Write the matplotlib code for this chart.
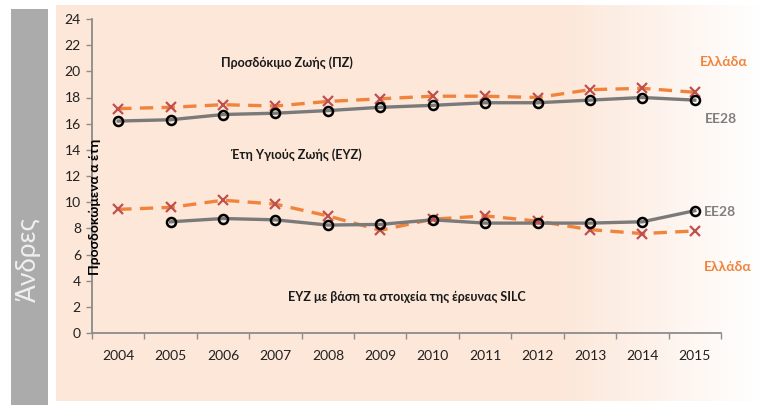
import numpy as np
import matplotlib
matplotlib.use("Agg")
import matplotlib.pyplot as plt

plt.rcParams['font.family'] = ['Lato', 'Open Sans', 'DejaVu Sans']

years = ['2004', '2005', '2006', '2007', '2008', '2009', '2010', '2011', '2012', '2013', '2014', '2015']
le_eu28 = [16.2, 16.3, 16.7, 16.8, 17.0, 17.25, 17.4, 17.6, 17.6, 17.8, 18.0, 17.8]
le_greece = [17.15, 17.25, 17.45, 17.35, 17.7, 17.9, 18.1, 18.1, 18.0, 18.6, 18.7, 18.4]
hly_eu28 = [np.nan, 8.5, 8.75, 8.65, 8.25, 8.3, 8.65, 8.4, 8.4, 8.4, 8.5, 9.35]
hly_greece = [9.45, 9.6, 10.15, 9.85, 8.95, 7.85, 8.7, 8.95, 8.55, 7.9, 7.6, 7.8]
yticks = list(range(0, 25, 2))

W, H = 760, 405
fig = plt.figure(figsize=(W / 100, H / 100), dpi=100)
fig.patch.set_facecolor('white')

def fx(px):
    return px / W

def fy(py):
    return 1 - py / H

# beige panel with fade to white on the right
bg = fig.add_axes([fx(56), fy(401), fx(760) - fx(56), fy(5) - fy(401)], zorder=0)
n = 704
xs = np.arange(n) + 56
t = np.clip((xs - 560) / (760 - 560), 0, 1)
base = np.array([252, 231, 217]) / 255.0
grad = base[None, :] * (1 - t[:, None]) + np.ones(3)[None, :] * t[:, None]
bg.imshow(grad[None, :, :], aspect='auto', extent=[0, 1, 0, 1])
bg.axis('off')

# gray side bar
side = fig.add_axes([fx(11), fy(405), fx(48) - fx(11), fy(9) - fy(405)], zorder=0)
side.set_facecolor('#ABABAB')
side.set_xticks([]); side.set_yticks([])
for s in side.spines.values():
    s.set_visible(False)
fig.text(fx(28), fy(260), 'Άνδρες', rotation=90, ha='center', va='center',
         color='#EFEFEF', fontsize=19, zorder=5)

ax = fig.add_axes([fx(92), fy(333), fx(721) - fx(92), fy(19) - fy(333)], zorder=2)
ax.patch.set_visible(False)
x = np.arange(len(years))

orange = '#F0843C'
red = '#C0504D'
gray = '#7A7A7A'

for ser in (le_greece, hly_greece):
    ax.plot(x, ser, color=orange, lw=2.4, ls=(0, (4, 2.5)), zorder=3)
    ax.plot(x, ser, ls='none', marker='x', ms=6.5, mew=1.6, color=red, zorder=4)
for ser in (le_eu28, hly_eu28):
    ax.plot(x, ser, color=gray, lw=2.4, zorder=3)
    ax.plot(x, ser, ls='none', marker='o', ms=6.5, mew=1.8, mfc='none', mec='black', zorder=5)

ax.set_xlim(-0.5, len(years) - 0.5)
ax.set_ylim(0, 24)
ax.set_yticks(yticks)
ax.set_yticklabels([str(v) for v in yticks])
ax.set_xticks(x)
ax.set_xticklabels(years)
ax.set_xticks(np.arange(len(years) + 1) - 0.5, minor=True)
ax.tick_params(axis='x', which='major', length=0, pad=12, labelsize=10, labelcolor='#202020')
ax.tick_params(axis='x', which='minor', length=4, color='#8C8C8C', width=1)
ax.tick_params(axis='y', length=4, color='#8C8C8C', width=1, labelsize=10, labelcolor='#202020', pad=4)
for side_name in ('top', 'right'):
    ax.spines[side_name].set_visible(False)
for side_name in ('left', 'bottom'):
    ax.spines[side_name].set_color('#8C8C8C')
    ax.spines[side_name].set_linewidth(1.3)

# annotations
fig.text(fx(287), fy(63), 'Προσδόκιμο Ζωής (ΠΖ)', ha='center', va='center',
         fontsize=9, fontweight='bold', color='#1A1A1A', zorder=6)
fig.text(fx(296), fy(155), 'Έτη Υγιούς Ζωής (ΕΥΖ)', ha='center', va='center',
         fontsize=9, fontweight='bold', color='#1A1A1A', zorder=6)
fig.text(fx(407), fy(297), 'ΕΥΖ με βάση τα στοιχεία της έρευνας SILC', ha='center', va='center',
         fontsize=9, fontweight='bold', color='#1A1A1A', zorder=6)
fig.text(fx(95), fy(207), 'Προσδοκώμενα α έτη', rotation=90, ha='center', va='center',
         fontsize=10, fontweight='bold', color='black', zorder=6)

fig.text(fx(724), fy(62), 'Ελλάδα', ha='center', va='center', fontsize=10,
         fontweight='bold', color=orange, zorder=6)
fig.text(fx(728), fy(267), 'Ελλάδα', ha='center', va='center', fontsize=10,
         fontweight='bold', color=orange, zorder=6)
fig.text(fx(721), fy(119), 'ΕΕ28', ha='center', va='center', fontsize=10,
         fontweight='bold', color='#7F7F7F', zorder=6)
fig.text(fx(720), fy(212), 'ΕΕ28', ha='center', va='center', fontsize=10,
         fontweight='bold', color='#7F7F7F', zorder=6)

fig.savefig('out.png', dpi=100)
